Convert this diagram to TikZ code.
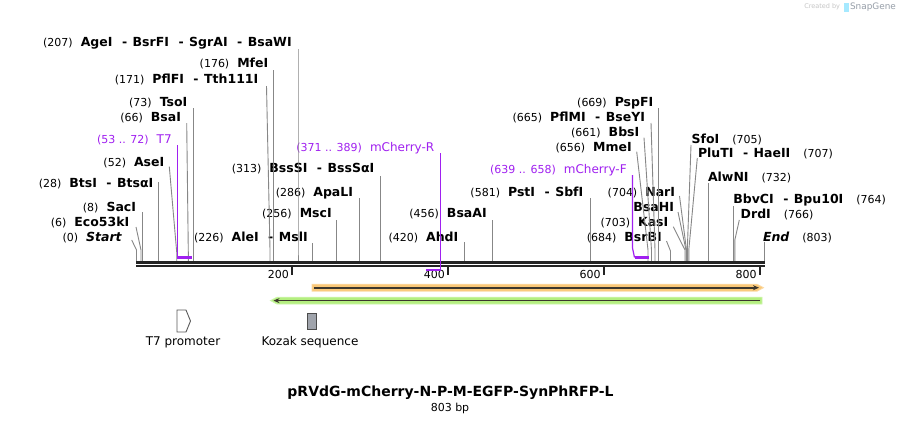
\documentclass[tikz,border=0pt]{standalone}
\usepackage{fontspec}
\setmainfont{DejaVu Sans}
\usetikzlibrary{arrows.meta}
\definecolor{cutgray}{RGB}{135,135,135}
\definecolor{barblack}{RGB}{35,35,35}
\definecolor{primer}{RGB}{160,32,240}
\definecolor{orfill}{RGB}{250,200,120}
\definecolor{oredge}{RGB}{252,218,165}
\definecolor{grfill}{RGB}{180,238,128}
\definecolor{gredge}{RGB}{205,246,170}
\definecolor{featline}{RGB}{60,55,45}
\definecolor{kozakfill}{RGB}{160,164,172}
\definecolor{snapgray}{RGB}{150,158,168}
\newcommand\nf{\fontsize{11}{13}\selectfont\mdseries}
\newcommand\enzf{\fontsize{12.5}{14}\selectfont\bfseries}
\newcommand\dsep{\hspace{9.5pt}-\hspace{5.5pt}}
\newcommand{\cutsite}[5]{%
  \coordinate (#1-t) at (#2,#3);
  \coordinate (#1-b) at (#4,261);
  \draw[cut] (#1-t) -- (#4,#5) -- (#1-b);}
\begin{document}
\begin{tikzpicture}[x=1pt,y=-1pt,
  lbl/.style={inner sep=0pt,outer sep=0pt},
  lablft/.style={lbl,anchor=base east},
  labrgt/.style={lbl,anchor=base west},
  primlab/.style={lablft,text=primer},
  cut/.style={draw=cutgray,line width=0.9pt},
  barline/.style={draw=barblack},
  primerline/.style={draw=primer,line width=1.2pt},
  primerbar/.style={draw=primer,line width=2.2pt},
  ticklab/.style={lbl,anchor=east,font=\nf},
  tickmark/.style={draw=barblack,line width=2pt},
  featlab/.style={lbl,font=\fontsize{12}{14}\selectfont}]
\useasboundingbox[fill=white] (0,0) rectangle (901,424);

% ---------- watermark
\node[lbl,anchor=east,text=gray!45,font=\fontsize{6.5}{8}\selectfont] (wm1) at (840,7) {Created by};
\fill[blue!25!cyan!35] (843.5,2.5) rectangle (848.5,12);
\node[lbl,anchor=west,text=snapgray,font=\fontsize{8.9}{10}\selectfont] (wm2) at (850,7) {SnapGene};

% ---------- enzyme labels (left of their line)
\node[lablft] (L-AgeI) at (291.7,46.8) {{\nf (207)}\hspace{8pt}{\enzf AgeI\dsep BsrFI\dsep SgrAI\dsep BsaWI}};
\node[lablft] (L-MfeI) at (268.3,67.8) {{\nf (176)}\hspace{8pt}{\enzf MfeI}};
\node[lablft] (L-Tth) at (258.3,83.8) {{\nf (171)}\hspace{8pt}{\enzf PflFI\dsep Tth111I}};
\node[lablft] (L-TsoI) at (187.3,106.2) {{\nf (73)}\hspace{8pt}{\enzf TsoI}};
\node[lablft] (L-BsaI) at (181,121.8) {{\nf (66)}\hspace{8pt}{\enzf BsaI}};
\node[primlab] (L-T7) at (171.7,143.5) {{\nf (53 .. 72)}\hspace{8pt}{\fontsize{12}{14}\selectfont T7}};
\node[lablft] (L-AseI) at (164.3,166.2) {{\nf (52)}\hspace{8pt}{\enzf AseI}};
\node[lablft] (L-BtsI) at (153.3,187.8) {{\nf (28)}\hspace{8pt}{\enzf BtsI\dsep BtsαI}};
\node[lablft] (L-SacI) at (136,211.2) {{\nf (8)}\hspace{8pt}{\enzf SacI}};
\node[lablft] (L-Eco) at (129.3,226.2) {{\nf (6)}\hspace{8pt}{\enzf Eco53kI}};
\node[lablft] (L-Start) at (121.7,241.2) {{\nf (0)}\hspace{8pt}{\enzf\itshape Start}};
\node[lablft] (L-AleI) at (307.7,241.2) {{\nf (226)}\hspace{8pt}{\enzf AleI\dsep MslI}};
\node[lablft] (L-MscI) at (331.7,217.8) {{\nf (256)}\hspace{8pt}{\enzf MscI}};
\node[lablft] (L-ApaLI) at (353,196.2) {{\nf (286)}\hspace{8pt}{\enzf ApaLI}};
\node[lablft] (L-BssSI) at (374.3,172.8) {{\nf (313)}\hspace{8pt}{\enzf BssSI\dsep BssSαI}};
\node[primlab] (L-mCR) at (434.3,151.2) {{\nf (371 .. 389)}\hspace{8pt}{\fontsize{12}{14}\selectfont mCherry-R}};
\node[lablft] (L-AhdI) at (458.3,241.2) {{\nf (420)}\hspace{8pt}{\enzf AhdI}};
\node[lablft] (L-BsaAI) at (486.7,217.8) {{\nf (456)}\hspace{8pt}{\enzf BsaAI}};
\node[lablft] (L-PstI) at (583.3,196.2) {{\nf (581)}\hspace{8pt}{\enzf PstI\dsep SbfI}};
\node[primlab] (L-mCF) at (626.7,173.5) {{\nf (639 .. 658)}\hspace{8pt}{\fontsize{12}{14}\selectfont mCherry-F}};
\node[lablft] (L-MmeI) at (631.7,151.2) {{\nf (656)}\hspace{8pt}{\enzf MmeI}};
\node[lablft] (L-BbsI) at (639.3,136.2) {{\nf (661)}\hspace{8pt}{\enzf BbsI}};
\node[lablft] (L-PflMI) at (645,121.2) {{\nf (665)}\hspace{8pt}{\enzf PflMI\dsep BseYI}};
\node[lablft] (L-PspFI) at (653.3,106.8) {{\nf (669)}\hspace{8pt}{\enzf PspFI}};
\node[lablft] (L-NarI) at (675,196.2) {{\nf (704)}\hspace{8pt}{\enzf NarI}};
\node[lablft] (L-BsaHI) at (674,211.2) {{\enzf BsaHI}};
\node[lablft] (L-KasI) at (668.3,226.2) {{\nf (703)}\hspace{8pt}{\enzf KasI}};
\node[lablft] (L-BsrBI) at (661.7,241.2) {{\nf (684)}\hspace{8pt}{\enzf BsrBI}};

% ---------- enzyme labels (right of their line)
\node[labrgt] (L-SfoI) at (691.7,143.5) {{\enzf SfoI}\hspace{13pt}{\nf (705)}};
\node[labrgt] (L-PluTI) at (698,157.5) {{\enzf PluTI\dsep HaeII}\hspace{13pt}{\nf (707)}};
\node[labrgt] (L-AlwNI) at (708,181.8) {{\enzf AlwNI}\hspace{13pt}{\nf (732)}};
\node[labrgt] (L-BbvCI) at (733.3,203.5) {{\enzf BbvCI\dsep Bpu10I}\hspace{13pt}{\nf (764)}};
\node[labrgt] (L-DrdI) at (740.7,218.5) {{\enzf DrdI}\hspace{13pt}{\nf (766)}};
\node[labrgt] (L-End) at (763,241.2) {{\enzf\itshape End}\hspace{13pt}{\nf (803)}};

% ---------- cut-site lines
\cutsite{Start}{131.7}{240}{136.5}{250}
\cutsite{Eco}{136}{227}{141}{250}
\cutsite{SacI}{142.3}{212}{142.3}{250}
\cutsite{BtsI}{158.3}{182}{158.3}{250}
\cutsite{AseI}{169.3}{166.7}{176.7}{252}
\cutsite{BsaI}{186.7}{123}{188.3}{252}
\cutsite{TsoI}{193.3}{108}{193.3}{250}
\cutsite{Tth}{266.5}{86}{270}{250}
\cutsite{MfeI}{273.3}{70}{273.3}{250}
\cutsite{AgeI}{298}{49}{298}{250}
\cutsite{AleI}{312.3}{243}{312.3}{250}
\cutsite{MscI}{336.3}{220}{336.3}{250}
\cutsite{ApaLI}{359.3}{198}{359.3}{250}
\cutsite{BssSI}{380.7}{176}{380.7}{250}
\cutsite{AhdI}{464.3}{242}{464.3}{250}
\cutsite{BsaAI}{492.3}{220}{492.3}{250}
\cutsite{PstI}{590}{198}{590}{250}
\cutsite{MmeI}{636.7}{151.7}{648}{250}
\cutsite{BbsI}{644}{137.7}{651.5}{250}
\cutsite{PflMI}{651}{123}{655}{250}
\cutsite{PspFI}{658.3}{108}{658.3}{250}
\cutsite{BsrBI}{666.5}{241}{670.5}{251}
\cutsite{KasI}{673.3}{226.7}{685}{250}
\cutsite{BsaHI}{678}{212}{686}{250}
\cutsite{NarI}{679.5}{196}{686.5}{250}
\cutsite{SfoI}{691}{145}{687.3}{250}
\cutsite{PluTI}{697.3}{158}{688.8}{250}
\cutsite{AlwNI}{708.3}{183.3}{708.3}{250}
\cutsite{BbvCI}{733.3}{206}{733.3}{250}
\cutsite{DrdI}{739.3}{220}{734.8}{240}
\cutsite{End}{764.3}{241.7}{764.3}{250}

% ---------- sequence bar
\coordinate (barA-l) at (136,262.3); \coordinate (barA-r) at (765,262.3);
\coordinate (barB-l) at (136,266.2); \coordinate (barB-r) at (765,266.2);
\draw[barline,line width=2.6pt] (barA-l) -- (barA-r);
\draw[barline,line width=2.3pt] (barB-l) -- (barB-r);

% ---------- ruler
\foreach \p/\x in {200/292.4,400/448.3,600/604.2,800/760.1}{
  \coordinate (tk\p) at (\x,267);
  \draw[tickmark] (tk\p) -- ++(0,7.5);
  \node[ticklab] (rl\p) at (\x-3.5,274.5) {\p};
}

% ---------- primers
\coordinate (T7-t) at (177.4,145); \coordinate (T7-a) at (177.4,257.5); \coordinate (T7-z) at (192,257.5);
\draw[primerline] (T7-t) -- (T7-a);
\draw[primerbar] (T7-a) -- (T7-z);
\coordinate (mCR-t) at (440.5,153); \coordinate (mCR-a) at (440.5,270.2); \coordinate (mCR-z) at (425.5,270.2);
\draw[primerline] (mCR-t) -- (mCR-a);
\draw[primerbar] ([xshift=0.6pt]mCR-a) -- (mCR-z);
\coordinate (mCF-t) at (632.5,175); \coordinate (mCF-k) at (632.5,248); \coordinate (mCF-a) at (634.5,257.5); \coordinate (mCF-z) at (649,257.5);
\draw[primerline] (mCF-t) -- (mCF-k) -- (mCF-a);
\draw[primerbar] (mCF-a) -- (mCF-z);

% ---------- features
\fill[orfill,draw=oredge,line width=0.8pt] (312,284.2) -- (757,284.2) -- (763.5,287.7) -- (757,291.2) -- (312,291.2) -- cycle;
\coordinate (orA) at (314,287.7); \coordinate (orB) at (759,287.7);
\draw[featline,line width=1.6pt,-{Stealth[length=6pt,width=5pt]}] (orA) -- (orB);
\fill[grfill,draw=gredge,line width=0.8pt] (277,297.2) -- (762,297.2) -- (762,304) -- (277,304) -- (270.5,300.6) -- cycle;
\coordinate (grA) at (760,300.6); \coordinate (grB) at (273.5,300.6);
\draw[featline,line width=1.6pt,-{Stealth[length=6pt,width=5pt]}] (grA) -- (grB);

\draw[fill=white,draw=black!65,line width=0.9pt] (177,310) -- (186,310) -- (190.5,321) -- (186,332) -- (177,332) -- cycle;
\draw[fill=kozakfill,draw=black!70,line width=0.9pt] (307,313) rectangle (316,329);
\node[featlab] (T7prom) at (183,342.5) {T7 promoter};
\node[featlab] (Kozak) at (310,342.5) {Kozak sequence};

% ---------- title
\node[lbl,font=\fontsize{14}{16}\selectfont\bfseries] (title) at (450.5,393) {pRVdG-mCherry-N-P-M-EGFP-SynPhRFP-L};
\node[lbl,font=\nf] (bp) at (450,408.5) {803 bp};
\end{tikzpicture}
\end{document}
